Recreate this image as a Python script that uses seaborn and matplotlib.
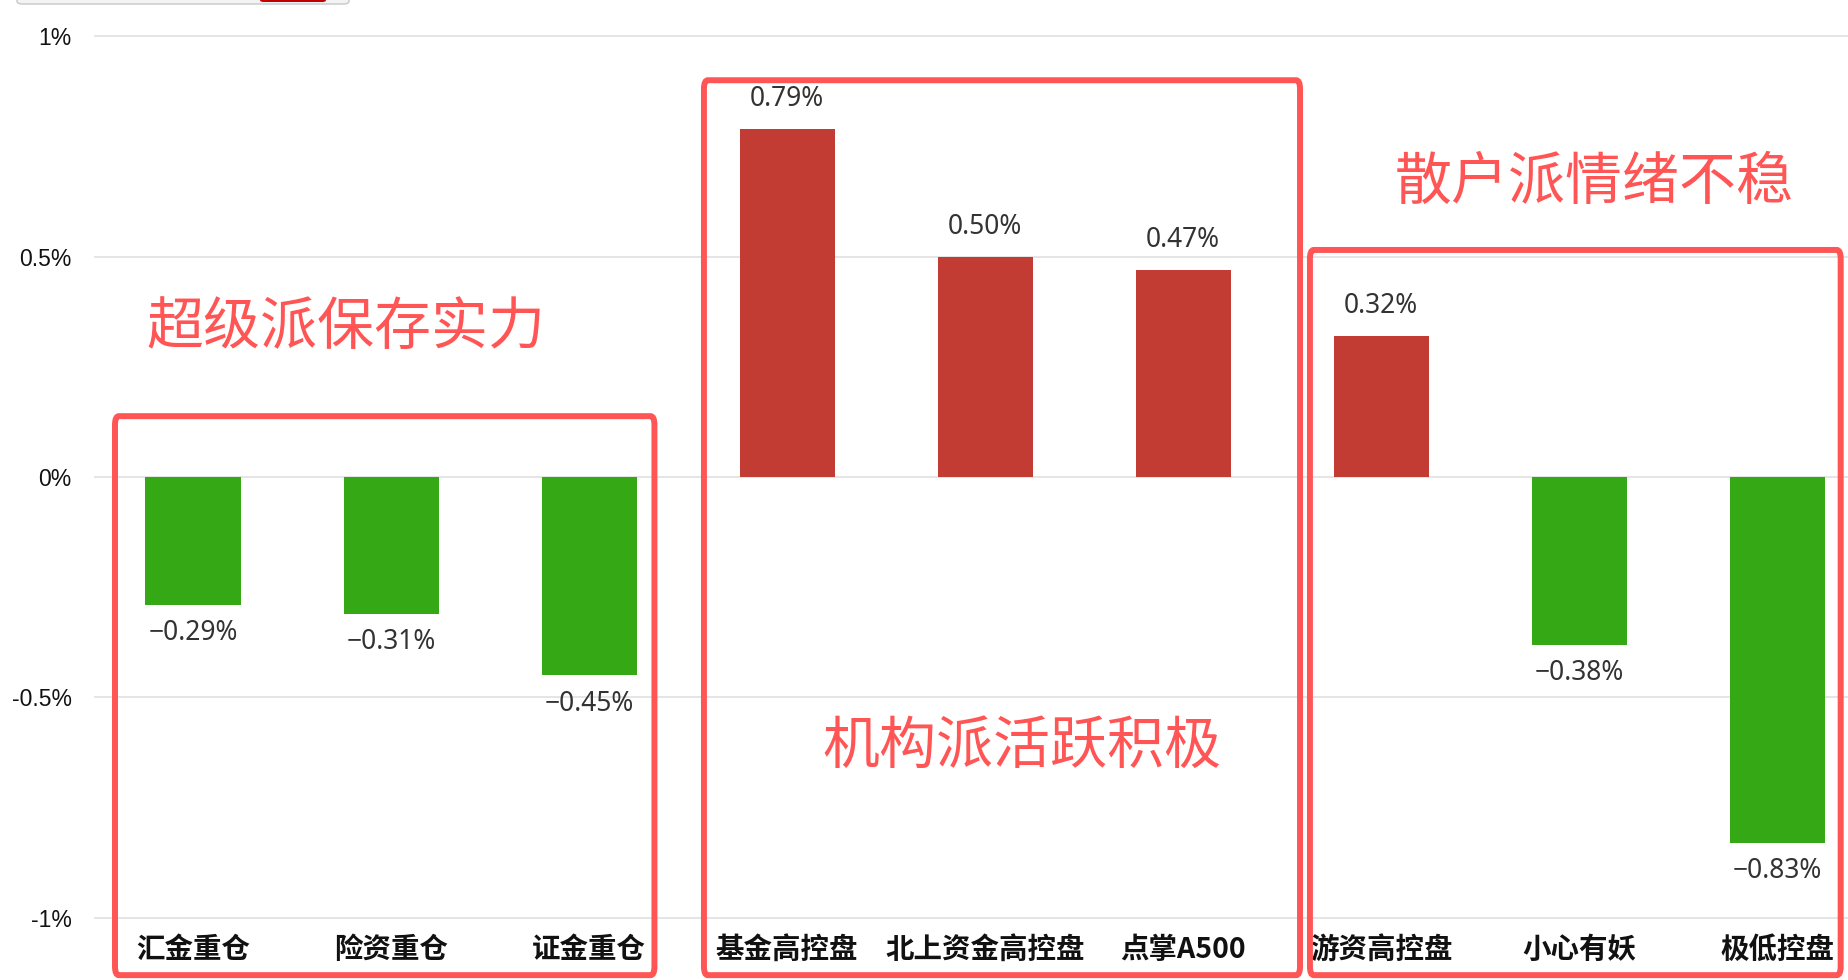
import matplotlib
matplotlib.use("Agg")
import matplotlib.pyplot as plt
from matplotlib.patches import FancyBboxPatch
import pandas as pd
import seaborn as sns

# data (daily change, %)
categories = ["汇金重仓", "险资重仓", "证金重仓",
              "基金高控盘", "北上资金高控盘", "点掌A500",
              "游资高控盘", "小心有妖", "极低控盘"]
values = [-0.29, -0.31, -0.45, 0.79, 0.50, 0.47, 0.32, -0.38, -0.83]
value_labels = ["−0.29%", "−0.31%", "−0.45%", "0.79%", "0.50%", "0.47%",
                "0.32%", "−0.38%", "−0.83%"]
y_ticks = [-1, -0.5, 0, 0.5, 1]
y_tick_labels = ["-1%", "-0.5%", "0%", "0.5%", "1%"]

group_notes = ["超级派保存实力", "机构派活跃积极", "散户派情绪不稳"]

RED = "#C23C33"
GREEN = "#34A915"
MARK = "#FF5555"

sns.set_style("white")
plt.rcParams['font.family'] = ['Noto Sans CJK SC', 'DejaVu Sans']

df = pd.DataFrame({"name": categories, "value": values})
df["dir"] = ["up" if v >= 0 else "down" for v in values]

fig = plt.figure(figsize=(18.48, 9.8), dpi=100)
ax = fig.add_axes([94 / 1848, 0, 1 - 94 / 1848, 1])

sns.barplot(data=df, x="name", y="value", hue="dir", order=categories,
            palette={"up": RED, "down": GREEN}, dodge=False, width=0.48,
            saturation=1, legend=False, linewidth=0, ax=ax)

ax.set_xlim(-0.5, 8.357)
ax.set_ylim(-1.141, 1.082)
ax.set_yticks(y_ticks)
ax.set_yticklabels(y_tick_labels, family=["Liberation Sans", "DejaVu Sans"],
                   fontsize=16.5, color="#111111")
ax.tick_params(axis="y", length=0, pad=16)
ax.set_xticks([])
ax.set_xlabel("")
ax.set_ylabel("")
ax.yaxis.grid(True, color="#e3e3e3", linewidth=1.3)
ax.set_axisbelow(True)
for s in ax.spines.values():
    s.set_visible(False)

# value labels
for i, (v, lab) in enumerate(zip(values, value_labels)):
    off = 0.068 if v >= 0 else -0.064
    ax.text(i, v + off, lab, ha="center", va="center", fontsize=19,
            color="#333333", family=["Noto Sans", "DejaVu Sans"])

# category labels along the bottom
for i, name in enumerate(categories):
    ax.text(i, -1.073, name, ha="center", va="center", fontsize=20.5,
            fontweight="bold", color="#111111",
            family=["Noto Sans CJK SC", "DejaVu Sans"])

# red highlight boxes (x in category units, y in %)
boxes = [(-0.394, 2.33, -1.13, 0.138),
         (2.58, 5.59, -1.13, 0.90),
         (5.64, 8.32, -1.13, 0.515)]
for x0, x1, y0, y1 in boxes:
    ax.add_patch(FancyBboxPatch((x0, y0), x1 - x0, y1 - y0,
                                boxstyle="round,pad=0,rounding_size=0.02",
                                fill=False, edgecolor=MARK, linewidth=4.3,
                                clip_on=False, zorder=5))

note_pos = [(-0.235, 0.338), (3.18, -0.611), (6.07, 0.667)]
for txt, (x, y) in zip(group_notes, note_pos):
    ax.text(x, y, txt, ha="left", va="center", fontsize=41, color=MARK,
            family=["Noto Sans CJK SC", "DejaVu Sans"])

# partial toolbar at the very top edge of the screenshot
fig.patches.append(FancyBboxPatch((17 / 1848, 976 / 980), 332 / 1848, 20 / 980,
                                  boxstyle="round,pad=0,rounding_size=0.003",
                                  transform=fig.transFigure, facecolor="#f3f3f3",
                                  edgecolor="#cfcfcf", linewidth=1.2))
fig.patches.append(FancyBboxPatch((260 / 1848, 978 / 980), 66 / 1848, 20 / 980,
                                  boxstyle="round,pad=0,rounding_size=0.002",
                                  transform=fig.transFigure, facecolor="#c00000",
                                  edgecolor="none"))

fig.savefig("out.png", dpi=100)
